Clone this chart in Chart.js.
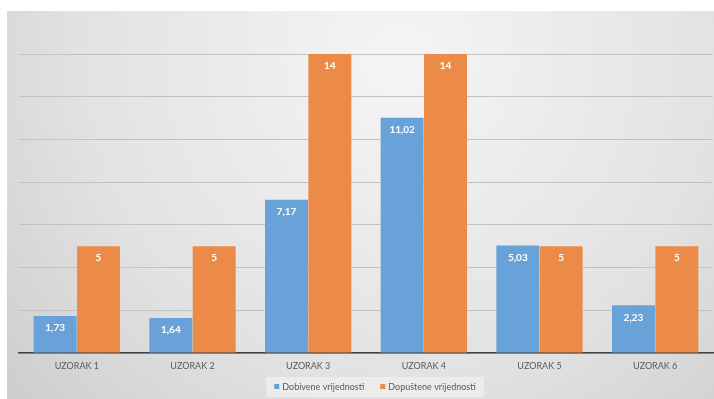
<!DOCTYPE html>
<html>
<head>
<meta charset="utf-8">
<script src="https://cdn.jsdelivr.net/npm/chart.js@4"></script>
<style>
  html, body { margin: 0; padding: 0; background: #fff; }
  canvas { display: block; }
</style>
</head>
<body>
<canvas id="chart" width="714" height="399"></canvas>
<script>
const categories = ['UZORAK 1', 'UZORAK 2', 'UZORAK 3', 'UZORAK 4', 'UZORAK 5', 'UZORAK 6'];
const dobivene = [1.73, 1.64, 7.17, 11.02, 5.03, 2.23];
const dopustene = [5, 5, 14, 14, 5, 5];
const seriesNames = ['Dobivene vrijednosti', 'Dopuštene vrijednosti'];
const seriesColors = ['#69a2d8', '#ec8b48'];

const FONT = 'Lato, "Open Sans", sans-serif';

// gray gradient panel behind the chart
const bgPlugin = {
    id: 'bg',
    beforeDraw(chart) {
        const ctx = chart.ctx;
        ctx.save();
        ctx.fillStyle = '#fff';
        ctx.fillRect(0, 0, chart.width, chart.height);
        const g = ctx.createRadialGradient(400, 60, 20, 400, 60, 520);
        g.addColorStop(0, '#f4f4f4');
        g.addColorStop(0.6, '#e2e2e2');
        g.addColorStop(1, '#cdcdcd');
        ctx.fillStyle = g;
        ctx.fillRect(7, 11, chart.width - 7, chart.height - 11);
        ctx.restore();
    }
};

// white value labels near bar tops
const labelPlugin = {
    id: 'vals',
    afterDatasetsDraw(chart) {
        const ctx = chart.ctx;
        ctx.save();
        ctx.font = 'bold 10px ' + FONT;
        ctx.fillStyle = '#fff';
        ctx.textAlign = 'center';
        ctx.textBaseline = 'middle';
        chart.data.datasets.forEach((ds, i) => {
            chart.getDatasetMeta(i).data.forEach((bar, j) => {
                const txt = String(ds.data[j]).replace('.', ',');
                ctx.fillText(txt, bar.x, bar.y + 12);
            });
        });
        ctx.restore();
    }
};

// legend drawn in a light box at the bottom
const legendPlugin = {
    id: 'leg',
    afterDraw(chart) {
        const ctx = chart.ctx;
        ctx.save();
        ctx.font = '9px ' + FONT;
        const items = chart.data.datasets.map(ds => ({ label: ds.label, color: ds.backgroundColor, w: 8 + ctx.measureText(ds.label).width }));
        const gap = 16;
        const total = items.reduce((s, it) => s + it.w, 0) + gap * (items.length - 1);
        let x = 375 - total / 2;
        const y = 387;
        ctx.fillStyle = 'rgba(245,245,245,0.55)';
        ctx.fillRect(x - 8, 377, total + 16, 20);
        ctx.textBaseline = 'middle';
        items.forEach(it => {
            ctx.fillStyle = it.color;
            ctx.fillRect(x, y - 3, 5, 5);
            ctx.fillStyle = '#595959';
            ctx.fillText(it.label, x + 8, y);
            x += it.w + gap;
        });
        ctx.restore();
    }
};

new Chart(document.getElementById('chart').getContext('2d'), {
    type: 'bar',
    data: {
        labels: categories,
        datasets: [
            { label: seriesNames[0], data: dobivene, backgroundColor: seriesColors[0], borderWidth: 0 },
            { label: seriesNames[1], data: dopustene, backgroundColor: seriesColors[1], borderWidth: 0 }
        ]
    },
    options: {
        responsive: false,
        animation: false,
        layout: { padding: { left: 19, top: 54, right: 1, bottom: 0 } },
        datasets: { bar: { categoryPercentage: 0.75, barPercentage: 0.99 } },
        plugins: { legend: { display: false }, tooltip: { enabled: false } },
        scales: {
            x: {
                grid: { display: false },
                border: { display: true, color: '#404040', width: 1.5 },
                ticks: { color: '#595959', font: { family: FONT, size: 9 }, padding: 0 },
                afterFit: s => { s.height = 46; }
            },
            y: {
                min: 0, max: 14,
                ticks: { display: false, stepSize: 2 },
                grid: { color: '#c2c2c2', drawTicks: false },
                border: { display: false },
                afterFit: s => { s.width = 0; }
            }
        }
    },
    plugins: [bgPlugin, labelPlugin, legendPlugin]
});
</script>
</body>
</html>
